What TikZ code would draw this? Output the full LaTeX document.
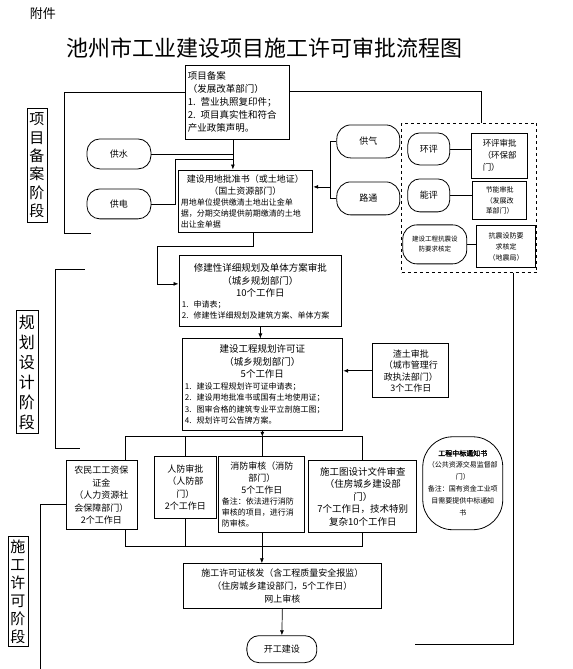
\documentclass[tikz,border=0pt]{standalone}
\usepackage{fontspec}
\setmainfont{Noto Sans CJK SC}
\newfontfamily\heavy{Noto Sans CJK SC}[FakeBold=2]
\usetikzlibrary{arrows.meta}
\setlength{\parindent}{0pt}

\begin{document}
\begin{tikzpicture}[x=1pt, y=-1pt,
	box/.style = {draw, line width=0.8pt, inner xsep=3pt, inner ysep=2pt},
	pill/.style = {draw, line width=0.8pt, rounded corners=13pt, align=center,
		font=\fontsize{9}{12}\selectfont},
	stage/.style = {draw, line width=0.8pt, inner sep=0pt, align=center},
	conn/.style = {line width=0.7pt},
	arr/.style = {line width=0.7pt, -{Latex[length=5pt,width=4pt]}}]
	\path[fill=white] (0,0) rectangle (573,669);

	\node[font=\fontsize{13}{15}\selectfont] (fj) at (43,14) {附件};
	\node[font=\fontsize{22}{26}\selectfont] (title) at (265,48) {池州市工业建设项目施工许可审批流程图};

	\node[stage, minimum width=20pt, minimum height=115pt, font=\fontsize{15}{18.5}\selectfont] (s1) at (37,165.5) {项\\目\\备\\案\\阶\\段};
	\node[stage, minimum width=22pt, minimum height=123pt, font=\fontsize{16}{20}\selectfont] (s2) at (27,372.5) {规\\划\\设\\计\\阶\\段};
	\node[stage, minimum width=20pt, minimum height=110pt, font=\fontsize{15}{18}\selectfont] (s3) at (18,592) {施\\工\\许\\可\\阶\\段};

	\node[box, text width=99pt, minimum height=74pt, align=left, font=\fontsize{9.5}{13}\selectfont] (xmba) at (237.5,102) {项目备案\\（发展改革部门）\\1. 营业执照复印件；\\2. 项目真实性和符合\\产业政策声明。};

	\node[pill, minimum width=64pt, minimum height=30pt] (gs) at (119,154) {供水};
	\node[pill, minimum width=64pt, minimum height=30pt] (gd) at (119,204) {供电};
	\node[pill, minimum width=63pt, minimum height=33pt, rounded corners=14pt] (gq) at (368.5,141.5) {供气};
	\node[pill, minimum width=63pt, minimum height=33pt, rounded corners=14pt] (lt) at (368.5,198.5) {路通};

	\node[box, text width=129pt, minimum height=63pt] (jsyd) at (245.5,201.5) {%
		{\fontsize{9}{12}\selectfont\centering 建设用地批准书（或土地证）\par（国土资源部门）\par}
		{\fontsize{8}{11}\selectfont\raggedright 用地单位提供缴清土地出让金单\par 据，分期交纳提供前期缴清的土地\par 出让金单据\par}};

	\node[draw, dashed, line width=0.8pt, minimum width=135pt, minimum height=150pt] (hpbox) at (469.5,198) {};
	\node[pill, minimum width=42pt, minimum height=32pt, rounded corners=12pt] (hp) at (429,149) {环评};
	\node[box, minimum width=56pt, minimum height=45pt, align=left, font=\fontsize{8.5}{12}\selectfont] (hpsp) at (500,155.5) {环评审批\\（环保部\\门）};
	\node[pill, minimum width=42pt, minimum height=33pt, rounded corners=12pt] (np) at (429,195.5) {能评};
	\node[box, minimum width=54pt, minimum height=39pt, align=center, font=\fontsize{7}{10.5}\selectfont] (npsp) at (500,200.5) {节能审批\\（发展改\\革部门）};
	\node[pill, minimum width=64pt, minimum height=39pt, rounded corners=14pt, font=\fontsize{6.5}{10}\selectfont] (kz) at (435,244.5) {建设工程抗震设\\防要求核定};
	\node[box, minimum width=59pt, minimum height=42pt, align=center, font=\fontsize{7}{11}\selectfont] (kzsp) at (506.5,247) {抗震设防要\\求核定\\（地震局）};

	\node[box, text width=157pt, minimum height=71pt] (xjx) at (260.5,291.5) {%
		{\fontsize{9.5}{12.5}\selectfont\centering 修建性详细规划及单体方案审批\par（城乡规划部门）\par 10个工作日\par}
		{\fontsize{8}{11}\selectfont\raggedright 1. 申请表；\par 2. 修建性详细规划及建筑方案、单体方案\par}};

	\node[box, text width=155pt, minimum height=92pt] (ghxk) at (262.5,385) {%
		{\fontsize{9.5}{12.5}\selectfont\centering 建设工程规划许可证\par（城乡规划部门）\par 5个工作日\par}
		{\fontsize{8}{11.5}\selectfont\raggedright 1. 建设工程规划许可证申请表；\par 2. 建设用地批准书或国有土地使用证；\par 3. 图审合格的建筑专业平立剖施工图；\par 4. 规划许可公告牌方案。\par}};
	\node[box, minimum width=76pt, minimum height=54pt, align=center, font=\fontsize{9}{11.5}\selectfont] (zt) at (411,371) {渣土审批\\（城市管理行\\政执法部门）\\3个工作日};

	\node[box, minimum width=71pt, minimum height=69pt, align=center, font=\fontsize{9}{12.5}\selectfont] (nmg) at (101.5,495.5) {农民工工资保\\证金\\（人力资源社\\会保障部门）\\2个工作日};
	\node[box, minimum width=63pt, minimum height=62pt, align=center, font=\fontsize{9}{12.5}\selectfont] (rf) at (185.5,488) {人防审批\\（人防部\\门）\\2个工作日};
	\node[box, text width=80pt, minimum height=76pt] (xf) at (262,495) {%
		{\fontsize{9}{12}\selectfont\centering 消防审核（消防\par 部门）\par 5个工作日\par}
		{\fontsize{8}{11}\selectfont\raggedright 备注：依法进行消防\par 审核的项目，进行消\par 防审核。\par}};
	\node[box, minimum width=108pt, minimum height=72pt, align=center, font=\fontsize{9.5}{12.5}\selectfont] (sgt) at (363,497) {施工图设计文件审查\\（住房城乡建设部\\门）\\7个工作日，技术特别\\复杂10个工作日};
	\node[draw, line width=0.8pt, rounded corners=30pt, minimum width=80pt, minimum height=93pt, text width=74pt, inner xsep=3pt, align=center, font=\fontsize{7}{12}\selectfont] (zb) at (463,483.5) {{\heavy 工程中标通知书}\\（公共资源交易监督部\\门）\\备注：国有资金工业项\\目需要提供中标通知\\书};

	\node[box, minimum width=199pt, minimum height=45pt, align=center, font=\fontsize{9}{13}\selectfont] (sgxk) at (282.5,586.5) {施工许可证核发（含工程质量安全报监）\\（住房城乡建设部门，5个工作日）\\网上审核};
	\node[pill, minimum width=70pt, minimum height=27pt, rounded corners=12pt] (kgjs) at (282,649.5) {开工建设};

	\coordinate (tr) at (482,91);
	\coordinate (lb1) at (64,92);
	\coordinate (lb2) at (91,233);
	\coordinate (jx) at (233,154);
	\coordinate (c1) at (175,159);
	\coordinate (br) at (331,187);
	\coordinate (a1) at (253,246);
	\coordinate (a2) at (157,284);
	\coordinate (gb1) at (85,269);
	\coordinate (gb2) at (80,449);
	\coordinate (gb3) at (55,449);
	\coordinate (j2l) at (125,437);
	\coordinate (j3l) at (125,547);
	\coordinate (rb) at (415,645);
	\coordinate (rb2) at (514,645);
	\coordinate (lb3) at (40,669);

	\draw[conn] (xmba.east |- tr) -- (tr) -- (tr |- hpbox.north);
	\draw[conn] (xmba.west |- lb1) -- (lb1) |- (lb2);
	\draw[arr] (xmba.south -| jx) -- (jsyd.north -| jx);
	\draw[conn] (gs.east) -- (gs.east -| jx);
	\draw[conn] (gd.east) -| (c1) -- (c1 -| jx);
	\draw[conn] (gq.west) -| (br) |- (lt.west);
	\draw[arr] (br) -- (br -| jsyd.east);
	\draw[conn] (hp.east) -- (hp.east -| hpsp.west);
	\draw[conn] (np.east) -- (np.east -| npsp.west);
	\draw[conn] (kz.east) -- (kz.east -| kzsp.west);
	\draw[arr] (jsyd.south -| a1) -- (a1) -| (a2) -- (a2 -| xjx.west);
	\draw[conn] (gb1) -| (gb3) -- (gb2);
	\draw[arr] (xjx.south) -- (xjx.south |- ghxk.north);
	\draw[arr] (zt.west) -- (zt.west -| ghxk.east);
	\draw[arr] (ghxk.south) -- (ghxk.south |- j2l);
	\draw[conn] (nmg.north -| j2l) -- (j2l) -- (j2l -| sgt.north) -- (sgt.north);
	\draw[conn] (rf.north) -- (rf.north |- j2l);
	\draw[conn] (xf.north) -- (xf.north |- j2l);
	\draw[conn] (nmg.south -| j3l) -- (j3l) -- (j3l -| sgt.south) -- (sgt.south);
	\draw[conn] (rf.south) -- (rf.south |- j3l);
	\draw[conn] (xf.south) -- (xf.south |- j3l);
	\draw[arr] (xf.south |- j3l) -- (xf.south |- sgxk.north);
	\draw[arr] (sgxk.south) -- (kgjs.north);
	\draw[conn] (hpbox.south -| rb2) -- (rb2) -- (rb);
	\draw[conn] ([yshift=-9.5pt]nmg.west) -| (lb3);
\end{tikzpicture}
\end{document}
